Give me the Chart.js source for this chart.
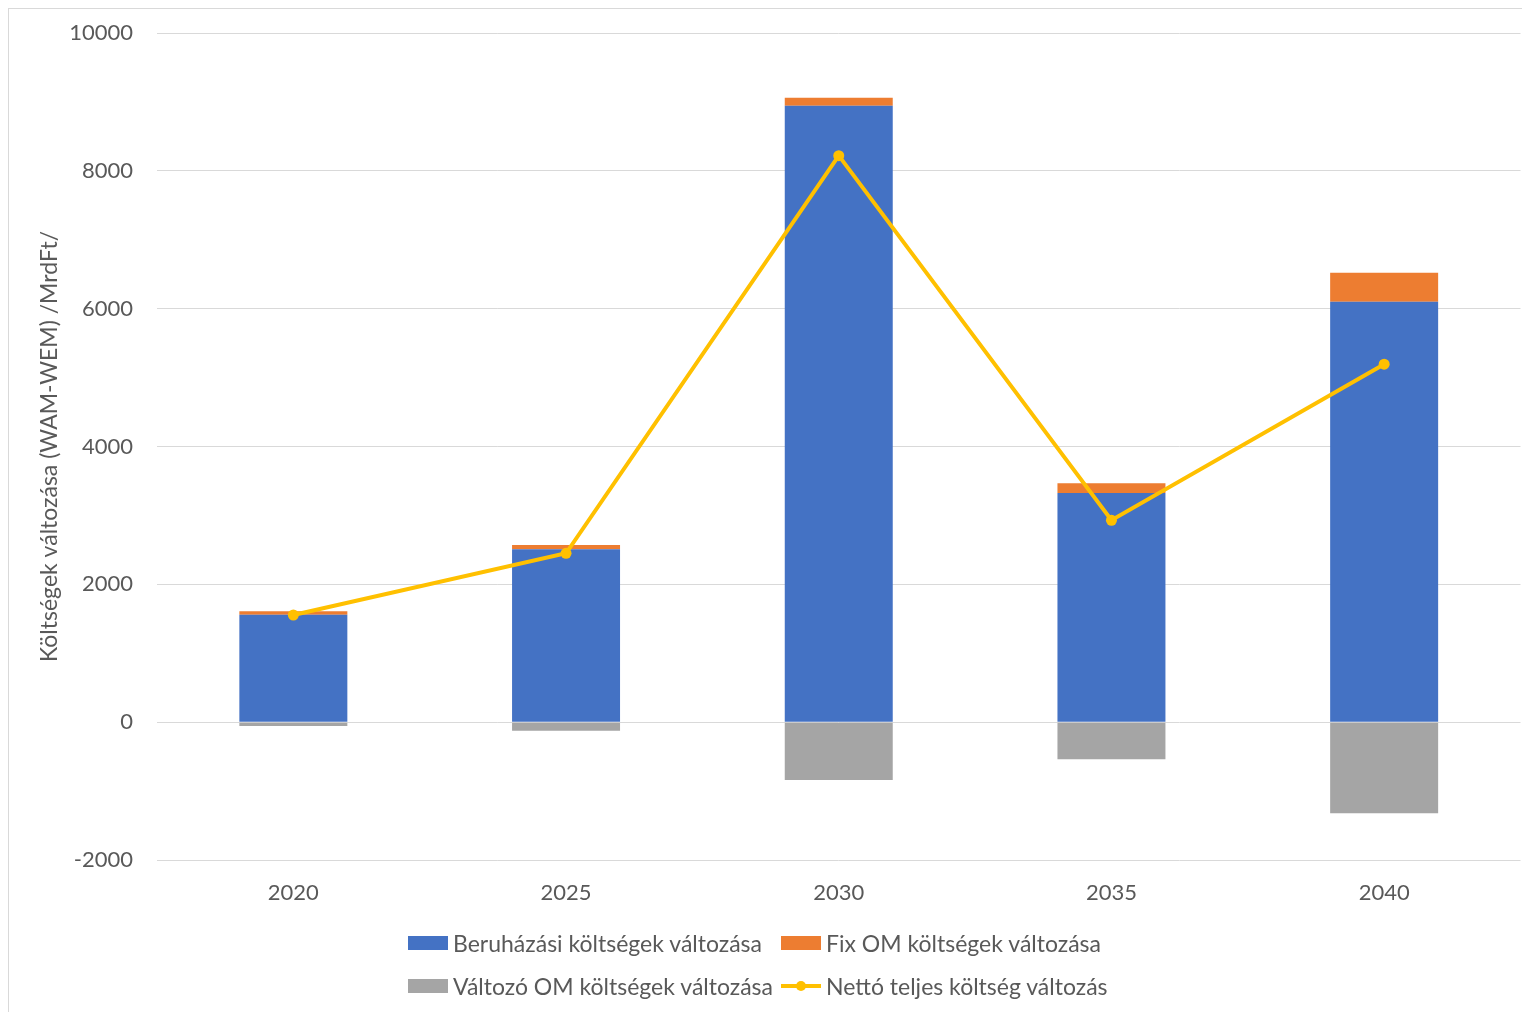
<!DOCTYPE html>
<html>
<head>
<meta charset="utf-8">
<script src="https://cdn.jsdelivr.net/npm/chart.js@4.4.1/dist/chart.umd.min.js"></script>
<style>
  body { margin: 0; background: #fff; }
  #wrap { position: relative; width: 1522px; height: 1012px; overflow: hidden; }
  #myChart { position: absolute; left: 0; top: 0; }
  #frame { position: absolute; left: 8px; top: 8px; width: 1530px; height: 1020px; border: 1px solid #d9d9d9; box-sizing: border-box; }
  #legend { position: absolute; left: 0; top: 0; width: 1522px; height: 1012px; pointer-events: none; }
  .item { position: absolute; height: 28px; display: flex; align-items: center; font-family: Lato, sans-serif; font-size: 23px; color: #595959; white-space: nowrap; }
  .box { display: inline-block; width: 40px; height: 14px; margin-right: 5px; }
  .lineMark { position: relative; display: inline-block; width: 40px; height: 14px; margin-right: 5px; }
  .lineMark:before { content: ""; position: absolute; left: 0; right: 0; top: 5px; height: 4px; background: #ffc000; }
  .lineMark:after { content: ""; position: absolute; left: 15px; top: 2px; width: 10px; height: 10px; border-radius: 50%; background: #ffc000; }
</style>
</head>
<body>
<div id="wrap">
  <div id="frame"></div>
  <canvas id="myChart"></canvas>
  <div id="legend"></div>
</div>
<script>
var years = ['2020', '2025', '2030', '2035', '2040'];
var beruhazasi = [1560, 2510, 8945, 3325, 6100];
var fixOM = [50, 60, 115, 140, 420];
var valtozoOM = [-55, -126, -840, -537, -1320];
var netto = [1555, 2450, 8220, 2930, 5195];
var yTicks = [-2000, 0, 2000, 4000, 6000, 8000, 10000];

var names = ['Beruházási költségek változása', 'Fix OM költségek változása',
             'Változó OM költségek változása', 'Nettó teljes költség változás'];
var colors = ['#4472c4', '#ed7d31', '#a5a5a5', '#ffc000'];

var font = 'Lato, sans-serif';
var gray = '#595959';

var ctx = document.getElementById('myChart').getContext('2d');
// a bit wider than the page: the line's point overflow eats the right padding
ctx.canvas.width = 1526;
ctx.canvas.height = 1012;

var chart = new Chart(ctx, {
    type: 'bar',
    data: {
        labels: years,
        datasets: [
            { label: names[0], data: beruhazasi, backgroundColor: colors[0], stack: 'a', order: 1 },
            { label: names[1], data: fixOM, backgroundColor: colors[1], stack: 'a', order: 1 },
            { label: names[2], data: valtozoOM, backgroundColor: colors[2], stack: 'a', order: 1 },
            {
                type: 'line', label: names[3], data: netto, stack: 'b', order: 0,
                borderColor: colors[3], backgroundColor: colors[3],
                borderWidth: 4, tension: 0,
                pointRadius: 5.5, pointHoverRadius: 5.5, pointBorderWidth: 0
            }
        ]
    },
    options: {
        responsive: false,
        animation: false,
        datasets: { bar: { categoryPercentage: 1, barPercentage: 0.396 } },
        layout: { padding: { left: 0, top: 33, right: 2, bottom: 102 } },
        plugins: {
            legend: { display: false },
            tooltip: { enabled: false }
        },
        scales: {
            x: {
                stacked: true,
                grid: { display: false, drawTicks: false },
                border: { display: false },
                ticks: { color: gray, font: { family: font, size: 22 }, padding: 20 },
                afterFit: function (s) {
                    s.height = 50;
                    s.paddingLeft = 0;
                    s.paddingRight = 0;
                }
            },
            y: {
                stacked: true,
                min: -2000,
                max: 10000,
                afterBuildTicks: function (s) { s.ticks = yTicks.map(function (v) { return { value: v }; }); },
                grid: { color: '#d9d9d9', lineWidth: 1, drawTicks: false },
                border: { display: false },
                ticks: {
                    color: gray, font: { family: font, size: 22 }, padding: 24,
                    callback: function (v) { return String(v); }
                },
                title: {
                    display: true,
                    text: 'Költségek változása (WAM-WEM) /MrdFt/',
                    color: gray,
                    font: { family: font, size: 23 },
                    padding: { top: 36, bottom: 0 }
                },
                afterFit: function (s) {
                    s.width = 157;
                    s.paddingTop = 0;
                    s.paddingBottom = 0;
                }
            }
        }
    }
});

// legend in two rows like the original
var legendPos = [[408, 943], [781, 943], [408, 986], [781, 986]];
var legend = document.getElementById('legend');
names.forEach(function (n, i) {
    var item = document.createElement('div');
    item.className = 'item';
    item.style.left = legendPos[i][0] + 'px';
    item.style.top = (legendPos[i][1] - 14) + 'px';
    var mark = document.createElement('span');
    if (i === 3) {
        mark.className = 'lineMark';
    } else {
        mark.className = 'box';
        mark.style.background = colors[i];
    }
    item.appendChild(mark);
    item.appendChild(document.createTextNode(n));
    legend.appendChild(item);
});
</script>
</body>
</html>
